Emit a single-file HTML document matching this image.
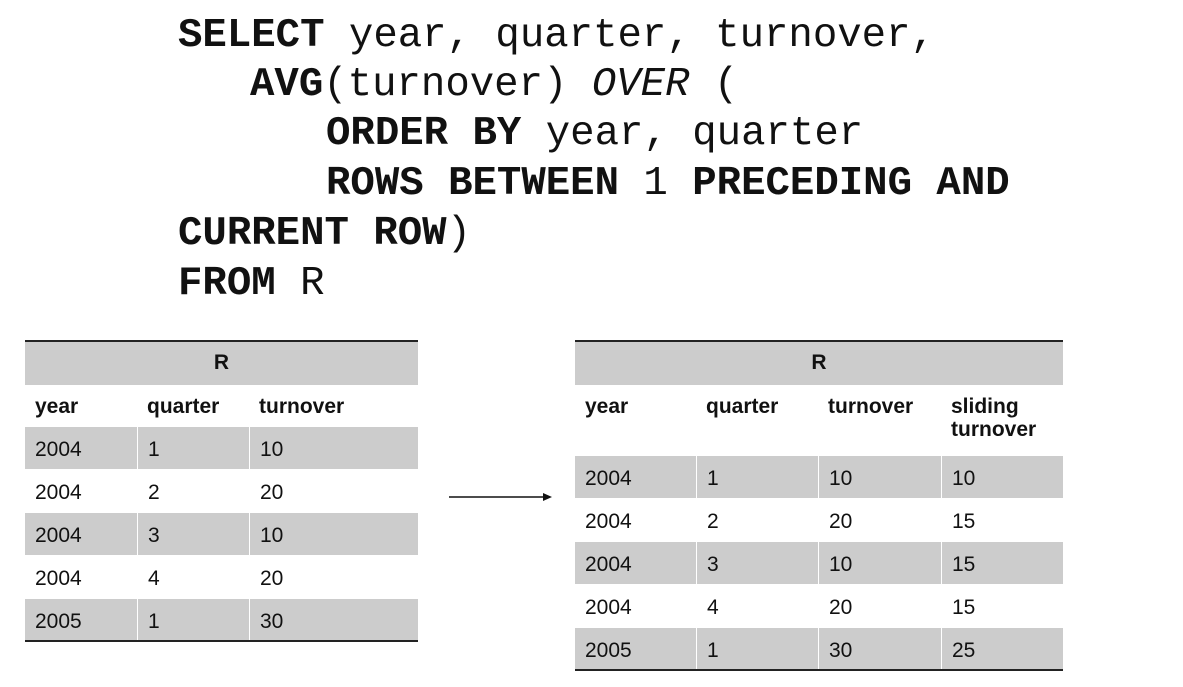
<!DOCTYPE html>
<html><head><meta charset="utf-8">
<style>
body{margin:0;width:1183px;height:687px;background:#fff;position:relative;overflow:hidden;font-family:"Liberation Sans",sans-serif;color:#111}
.code{position:absolute;font-family:"Liberation Mono",monospace;font-size:40.7px;white-space:pre;line-height:50px;color:#111}
.code b{font-weight:bold}
.cell{position:absolute;font-size:21px;box-sizing:border-box;padding-left:10px;line-height:23px}
.g{background:#cccccc}
.hdr{font-weight:bold}
.rule{position:absolute;height:2px;background:#222}
</style></head><body>
<div class="code" style="left:178px;top:11px"><b>SELECT</b> year, quarter, turnover,</div>
<div class="code" style="left:250px;top:60px"><b>AVG</b>(turnover) <i>OVER</i> (</div>
<div class="code" style="left:326px;top:109px"><b>ORDER BY</b> year, quarter</div>
<div class="code" style="left:326px;top:159px"><b>ROWS BETWEEN</b> 1 <b>PRECEDING AND</b></div>
<div class="code" style="left:178px;top:209px"><b>CURRENT ROW</b>)</div>
<div class="code" style="left:178px;top:259px"><b>FROM</b> R</div>

<div id="left"></div>
<div id="right"></div>

<svg style="position:absolute;left:0;top:0" width="1183" height="687">
<line x1="449" y1="497" x2="545" y2="497" stroke="#111" stroke-width="1.5"/>
<polygon points="552,497 543,493 543,501" fill="#111"/>
</svg>
<script>
const years=["2004","2004","2004","2004","2005"];
const quarters=["1","2","3","4","1"];
const turnover=["10","20","10","20","30"];
const sliding=["10","15","15","15","25"];
function mk(parent,x,y,w,h,cls,txt,name){
  const d=document.createElement('div');
  d.className='cell '+cls;
  d.style.left=x+'px';d.style.top=y+'px';d.style.width=w+'px';d.style.height=h+'px';
  d.innerHTML=txt;
  
  
  parent.appendChild(d);return d;
}
function table(el,x0,x1,cols,heads,colsData,hdrH){
  const top=341;
  const t=mk(el,x0,top,x1-x0,44,'g hdr','R','table-title');
  t.style.textAlign='center';t.style.paddingLeft='0';t.style.paddingTop='10px';
  const hy=385;
  for(let c=0;c<cols.length-1;c++){
    const h=mk(el,cols[c],hy,cols[c+1]-cols[c],hdrH,'hdr',heads[c],'column-header');
    h.style.paddingTop='10px';
  }
  let y=hy+hdrH;const rh=43;
  for(let r=0;r<colsData[0].length;r++){
    for(let c=0;c<cols.length-1;c++){
      const cell=mk(el,cols[c]+(c>0?1:0),y,cols[c+1]-cols[c]-(c>0?1:0),rh-1,r%2==0?'g':'',colsData[c][r],'table-cell');
      cell.style.paddingTop='11px';
    }
    y+=rh;
  }
  const a=document.createElement('div');a.className='rule';a.style.left=x0+'px';a.style.width=(x1-x0)+'px';a.style.top=(top-1)+'px';
  
  
  el.appendChild(a);
  const b=document.createElement('div');b.className='rule';b.style.left=x0+'px';b.style.width=(x1-x0)+'px';b.style.top=(y-2)+'px';
  
  
  el.appendChild(b);
}
table(document.getElementById('left'),25,418,[25,137,249,418],["year","quarter","turnover"],[years,quarters,turnover],42);
table(document.getElementById('right'),575,1063,[575,696,818,941,1063],["year","quarter","turnover","sliding<br>turnover"],[years,quarters,turnover,sliding],71);
</script>
</body></html>
